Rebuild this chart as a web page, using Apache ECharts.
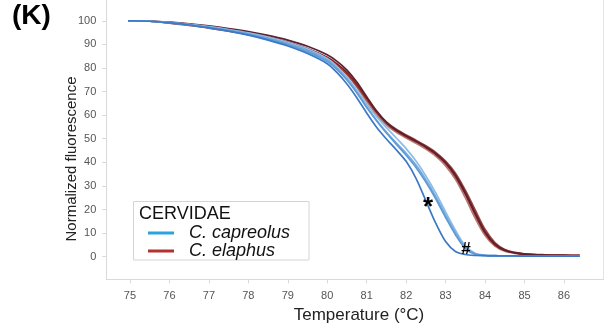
<!DOCTYPE html>
<html>
<head>
<meta charset="utf-8">
<script src="https://cdn.jsdelivr.net/npm/echarts@6/dist/echarts.min.js"></script>
<style>
html,body{margin:0;padding:0;background:#fff;}
#chart{width:605px;height:327px;}
</style>
</head>
<body>
<div id="chart"></div>
<script>
// Temperatures (°C) at which each melting curve was read
const temps = [74.95, 75.5, 76, 76.5, 77, 77.5, 78, 78.5, 79, 79.5, 80, 80.25, 80.5, 80.75, 81, 81.25, 81.5, 81.75, 82, 82.25, 82.5, 82.75, 83, 83.25, 83.5, 83.75, 84, 84.25, 84.5, 84.75, 85, 85.5, 86, 86.4];

// C. capreolus (blue) curves
const capreolus1 = [100, 99.8, 99.1, 98.2, 97.0, 95.6, 93.9, 91.8, 89.3, 86.1, 81.8, 78.0, 73.2, 67.4, 60.9, 54.9, 49.9, 45.3, 40.4, 33.2, 23.7, 14.2, 6.4, 2.2, 0.9, 0.5, 0.4, 0.3, 0.3, 0.3, 0.2, 0.2, 0.2, 0.2];
const capreolus2 = [100, 99.8, 99.1, 98.2, 97.1, 95.8, 94.2, 92.2, 89.8, 86.8, 82.7, 79.3, 74.9, 69.5, 63.4, 57.6, 52.4, 47.7, 43.0, 37.8, 31.6, 24.5, 16.6, 9.3, 3.4, 1.0, 0.5, 0.4, 0.3, 0.3, 0.3, 0.2, 0.2, 0.2];
const capreolus3 = [100, 99.8, 99.2, 98.4, 97.3, 96.0, 94.5, 92.6, 90.3, 87.4, 83.4, 79.8, 75.1, 69.6, 63.2, 57.8, 52.8, 48.2, 43.8, 38.8, 32.6, 25.5, 17.6, 10.2, 4.0, 1.2, 0.5, 0.4, 0.3, 0.3, 0.3, 0.2, 0.2, 0.2];
const capreolus4 = [100, 99.9, 99.3, 98.5, 97.5, 96.3, 94.9, 93.1, 90.9, 88.1, 84.0, 80.6, 76.0, 70.6, 64.6, 59.3, 54.7, 50.3, 45.8, 40.5, 34.2, 27.0, 19.0, 11.2, 4.6, 1.4, 0.6, 0.4, 0.3, 0.3, 0.3, 0.2, 0.2, 0.2];

// C. elaphus (red) curves
const elaphus1 = [100, 99.9, 99.3, 98.5, 97.5, 96.3, 94.9, 93.1, 91.0, 88.2, 84.5, 81.7, 78.0, 73.1, 67.2, 61.3, 56.6, 53.3, 50.9, 48.7, 46.3, 43.4, 39.5, 34.0, 26.5, 17.8, 10.0, 5.0, 2.6, 1.6, 1.1, 0.7, 0.5, 0.4];
const elaphus2 = [100, 99.8, 99.0, 98.0, 96.9, 95.6, 94.1, 92.3, 90.3, 87.5, 83.8, 81.0, 77.3, 72.4, 66.6, 61.2, 57.0, 54.0, 51.6, 49.4, 47.0, 44.2, 40.5, 35.4, 28.2, 19.8, 11.6, 6.0, 3.0, 1.8, 1.2, 0.8, 0.6, 0.5];
const elaphus3 = [100, 99.8, 99.1, 98.2, 97.1, 95.8, 94.3, 92.5, 90.5, 87.7, 84.0, 81.1, 77.2, 71.9, 65.8, 60.2, 55.8, 52.7, 50.3, 48.1, 45.6, 42.6, 38.5, 32.8, 25.0, 16.3, 9.0, 4.5, 2.3, 1.4, 1.0, 0.6, 0.5, 0.4];
const elaphus4 = [100, 99.9, 99.4, 98.7, 97.8, 96.7, 95.4, 93.8, 91.8, 89.2, 85.6, 82.8, 79.1, 74.0, 67.8, 61.8, 57.0, 53.7, 51.3, 49.0, 46.6, 43.8, 40.0, 34.6, 27.2, 18.6, 10.6, 5.4, 2.8, 1.7, 1.1, 0.7, 0.5, 0.4];

// Axis tick labels
const xTicks = [75, 76, 77, 78, 79, 80, 81, 82, 83, 84, 85, 86];
const yTicks = [0, 10, 20, 30, 40, 50, 60, 70, 80, 90, 100];

const NAME_BLUE = 'C. capreolus';
const NAME_RED = 'C. elaphus';

function pairs(arr) { return temps.map((t, i) => [t, arr[i]]); }
function curve(name, arr, color, z) {
  return {
    type: 'line', name: name, data: pairs(arr), showSymbol: false, symbol: 'none',
    smooth: 0.3, z: z,
    lineStyle: { color: color, width: 1.7 }, itemStyle: { color: color },
    emphasis: { disabled: true }, silent: true
  };
}

const chart = echarts.init(document.getElementById('chart'), null, { renderer: 'canvas' });
const axisColor = '#d9d9d9';
const labelColor = '#555';
const font = 'Liberation Sans, Arial, Helvetica, sans-serif';

chart.setOption({
  animation: false,
  backgroundColor: '#fff',
  textStyle: { fontFamily: font },
  grid: { left: 106.3, right: 1.6, top: 0, bottom: 47.7, containLabel: false },
  xAxis: {
    type: 'value', min: 74.4, max: 87,
    axisLine: { show: true, onZero: false, lineStyle: { color: axisColor, width: 1 } },
    axisTick: { show: true, customValues: xTicks, length: 4, lineStyle: { color: axisColor } },
    axisLabel: { customValues: xTicks, color: labelColor, fontSize: 11, margin: 11, fontFamily: font },
    splitLine: { show: false }
  },
  yAxis: [{
    type: 'value', min: -9.6, max: 108.8,
    axisLine: { show: true, lineStyle: { color: axisColor, width: 1 } },
    axisTick: { show: true, customValues: yTicks, length: 4, lineStyle: { color: axisColor } },
    axisLabel: { customValues: yTicks, color: labelColor, fontSize: 11, margin: 10, fontFamily: font },
    splitLine: { show: false }
  }, {
    type: 'value', min: -9.6, max: 108.8, position: 'right',
    axisLine: { show: true, lineStyle: { color: '#e4e4e4', width: 1 } },
    axisTick: { show: false }, axisLabel: { show: false }, splitLine: { show: false }
  }],
  legend: {
    show: true, orient: 'vertical', left: 148, top: 224, z: 10,
    padding: 0, itemGap: 0, itemWidth: 26, itemHeight: 3,
    selectedMode: false,
    textStyle: { fontSize: 18, fontStyle: 'italic', color: '#111', fontFamily: font, lineHeight: 15, padding: [0, 0, 0, 10] },
    data: [
      { name: NAME_BLUE, icon: 'rect', itemStyle: { color: '#2ba3dc', borderWidth: 0 } },
      { name: NAME_RED, icon: 'rect', itemStyle: { color: '#b5312c', borderWidth: 0 } }
    ]
  },
  graphic: [
    { type: 'text', left: 12, top: 2, style: { text: '(K)', font: 'bold 28px ' + font, fill: '#000' } },
    { type: 'rect', shape: { x: 133.5, y: 201.5, width: 175.5, height: 58.5 }, style: { fill: '#fff', stroke: '#d4d4d4', lineWidth: 1 }, z: 1 },
    { type: 'text', x: 139, y: 205, style: { text: 'CERVIDAE', font: '18px ' + font, fill: '#111' }, z: 2 },
    { type: 'text', x: 72, y: 159, rotation: Math.PI / 2, style: { text: 'Normalized fluorescence', font: '15px ' + font, fill: '#222', align: 'center', verticalAlign: 'middle' } },
    { type: 'text', x: 359, y: 315, style: { text: 'Temperature (°C)', font: '17px ' + font, fill: '#222', align: 'center', verticalAlign: 'middle' } },
    { type: 'text', x: 428, y: 208, style: { text: '*', font: 'bold 26px ' + font, fill: '#000', align: 'center', verticalAlign: 'middle' }, z: 60 },
    { type: 'text', x: 466, y: 249, style: { text: '#', font: 'bold 17px ' + font, fill: '#000', align: 'center', verticalAlign: 'middle' }, z: 60 }
  ],
  series: [
    curve(NAME_RED, elaphus3, '#b77b73', 3),
    curve(NAME_RED, elaphus2, '#a04741', 3),
    curve(NAME_RED, elaphus1, '#8c1d1d', 3),
    curve(NAME_RED, elaphus4, '#5b2230', 3),
    curve(NAME_BLUE, capreolus4, '#8dbde7', 4),
    curve(NAME_BLUE, capreolus3, '#75acdf', 4),
    curve(NAME_BLUE, capreolus2, '#5f9ad6', 4),
    curve(NAME_BLUE, capreolus1, '#3b79c6', 4)
  ]
});
</script>
</body>
</html>
